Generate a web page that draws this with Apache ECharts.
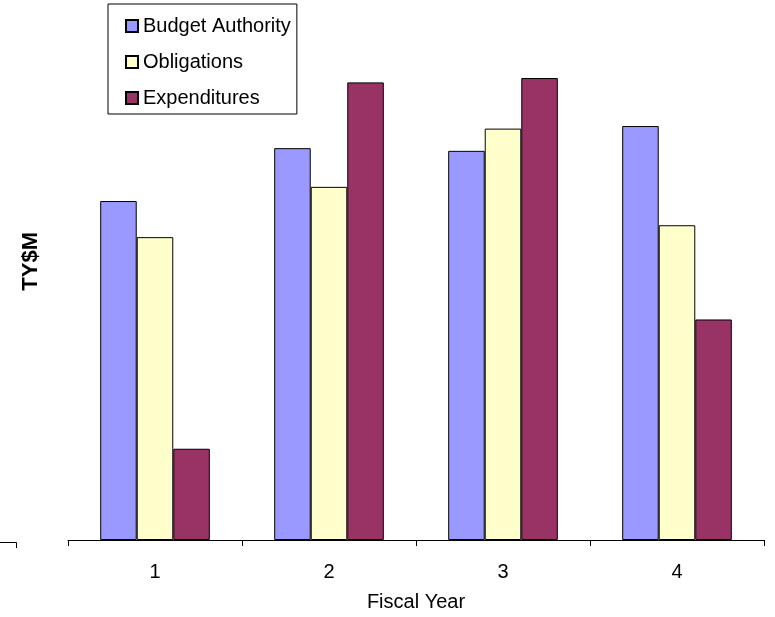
<!DOCTYPE html>
<html>
<head>
<meta charset="utf-8">
<style>
  html, body { margin: 0; padding: 0; background: #fff; }
  #chart { width: 775px; height: 617px; }
</style>
<script src="https://cdn.jsdelivr.net/npm/echarts@6/dist/echarts.min.js"></script>
</head>
<body>
<div id="chart"></div>
<script>
// Fiscal years on the category axis
const fiscalYears = ['1', '2', '3', '4'];

// Amounts per fiscal year (TY$M, relative scale)
const budgetAuthority = [341.7, 395, 392.3, 417.3];
const obligations     = [305.3, 356, 414.7, 317.3];
const expenditures    = [92, 461.3, 465.7, 222.3];

const FONT = '"Liberation Sans", Arial, sans-serif';

const chart = echarts.init(document.getElementById('chart'), null, { renderer: 'canvas' });

function barSeries(name, data, color) {
  return {
    name: name,
    type: 'bar',
    data: data,
    barGap: '0%',
    barCategoryGap: '37%',
    itemStyle: { color: color, borderColor: '#000', borderWidth: 1 },
    emphasis: { disabled: true },
    animation: false
  };
}

chart.setOption({
  animation: false,
  textStyle: { fontFamily: FONT, color: '#000' },
  grid: { left: 68, right: 11, top: 44, bottom: 73 },
  legend: {
    orient: 'vertical',
    left: 108,
    top: 4,
    padding: [12, 6, 6, 17],
    itemGap: 16,
    itemWidth: 12,
    itemHeight: 12,
    borderColor: '#000',
    borderWidth: 1,
    borderRadius: 0,
    selectedMode: false,
    icon: 'rect',
    textStyle: { fontFamily: FONT, fontSize: 20, color: '#000', lineHeight: 20 },
    data: ['Budget Authority', 'Obligations', 'Expenditures']
  },
  xAxis: {
    type: 'category',
    data: fiscalYears,
    name: 'Fiscal Year',
    nameLocation: 'middle',
    nameGap: 52,
    nameTextStyle: { fontFamily: FONT, fontSize: 20, color: '#000' },
    axisLine: { show: true, lineStyle: { color: '#000', width: 1 } },
    axisTick: { show: true, alignWithLabel: false, interval: 0, length: 6, lineStyle: { color: '#000', width: 1 } },
    axisLabel: { fontFamily: FONT, fontSize: 20, color: '#000', margin: 22 }
  },
  yAxis: {
    type: 'value',
    min: 0,
    max: 500,
    axisLine: { show: false },
    axisTick: { show: false },
    axisLabel: { show: false },
    splitLine: { show: false }
  },
  graphic: [
    {
      type: 'text',
      left: 20,
      top: 232,
      rotation: Math.PI / 2,
      style: {
        text: 'TY$M',
        fontFamily: FONT,
        fontSize: 22,
        fontWeight: 'bold',
        fill: '#000'
      }
    },
    {
      type: 'polyline',
      shape: { points: [[0, 542.5], [16.5, 542.5], [16.5, 548]] },
      style: { stroke: '#000', lineWidth: 1, fill: null }
    }
  ],
  series: [
    barSeries('Budget Authority', budgetAuthority, '#9999FF'),
    barSeries('Obligations', obligations, '#FFFFCC'),
    barSeries('Expenditures', expenditures, '#993366')
  ]
});
</script>
</body>
</html>
